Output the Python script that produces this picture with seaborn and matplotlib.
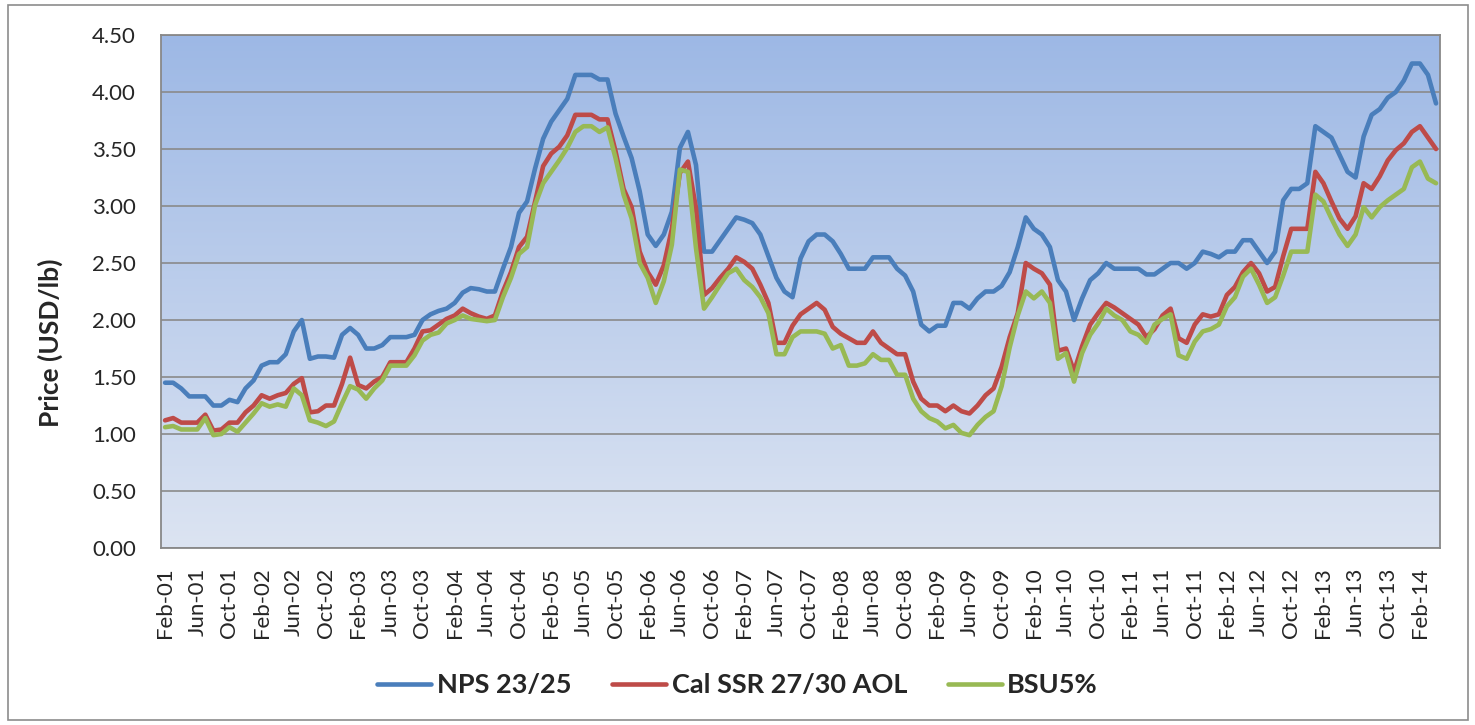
import numpy as np
import pandas as pd
import matplotlib
matplotlib.use('Agg')
import matplotlib.pyplot as plt
from matplotlib.patches import Rectangle
from matplotlib.colors import LinearSegmentedColormap
import seaborn as sns

# Monthly prices, Feb-01 .. Apr-14 (USD/lb)
nps = [1.45, 1.45, 1.40, 1.33, 1.33, 1.33, 1.25, 1.25, 1.30, 1.28,
       1.40, 1.47, 1.60, 1.63, 1.63, 1.70, 1.90, 2.00, 1.66, 1.68,
       1.68, 1.67, 1.87, 1.93, 1.87, 1.75, 1.75, 1.78, 1.85, 1.85,
       1.85, 1.87, 2.00, 2.05, 2.08, 2.10, 2.15, 2.24, 2.28, 2.27,
       2.25, 2.25, 2.45, 2.64, 2.94, 3.04, 3.33, 3.59, 3.74, 3.84,
       3.94, 4.15, 4.15, 4.15, 4.11, 4.11, 3.81, 3.61, 3.42, 3.13,
       2.75, 2.65, 2.75, 2.95, 3.51, 3.65, 3.36, 2.60, 2.60, 2.70,
       2.80, 2.90, 2.88, 2.85, 2.75, 2.56, 2.37, 2.25, 2.20, 2.54,
       2.69, 2.75, 2.75, 2.69, 2.58, 2.45, 2.45, 2.45, 2.55, 2.55,
       2.55, 2.45, 2.39, 2.25, 1.96, 1.90, 1.95, 1.95, 2.15, 2.15,
       2.10, 2.19, 2.25, 2.25, 2.30, 2.42, 2.64, 2.90, 2.80, 2.75,
       2.64, 2.35, 2.25, 2.00, 2.19, 2.35, 2.41, 2.50, 2.45, 2.45,
       2.45, 2.45, 2.40, 2.40, 2.45, 2.50, 2.50, 2.45, 2.50, 2.60,
       2.58, 2.55, 2.60, 2.60, 2.70, 2.70, 2.60, 2.50, 2.60, 3.05,
       3.15, 3.15, 3.20, 3.70, 3.65, 3.60, 3.45, 3.30, 3.25, 3.61,
       3.80, 3.85, 3.95, 4.00, 4.10, 4.25, 4.25, 4.15, 3.90]

cal_ssr = [1.12, 1.14, 1.10, 1.10, 1.10, 1.17, 1.03, 1.04, 1.10, 1.10,
           1.19, 1.25, 1.34, 1.31, 1.34, 1.36, 1.44, 1.49, 1.19, 1.20,
           1.25, 1.25, 1.44, 1.67, 1.43, 1.40, 1.46, 1.50, 1.63, 1.63,
           1.63, 1.75, 1.90, 1.91, 1.96, 2.01, 2.04, 2.10, 2.06, 2.03,
           2.01, 2.04, 2.25, 2.42, 2.64, 2.73, 3.04, 3.35, 3.46, 3.52,
           3.62, 3.80, 3.80, 3.80, 3.76, 3.76, 3.48, 3.15, 2.99, 2.60,
           2.42, 2.31, 2.48, 2.80, 3.29, 3.39, 2.98, 2.22, 2.28, 2.37,
           2.45, 2.55, 2.51, 2.45, 2.31, 2.15, 1.80, 1.80, 1.95, 2.05,
           2.10, 2.15, 2.09, 1.94, 1.88, 1.84, 1.80, 1.80, 1.90, 1.80,
           1.75, 1.70, 1.70, 1.46, 1.31, 1.25, 1.25, 1.20, 1.25, 1.20,
           1.18, 1.25, 1.34, 1.40, 1.59, 1.85, 2.06, 2.50, 2.45, 2.41,
           2.31, 1.73, 1.75, 1.55, 1.77, 1.96, 2.06, 2.15, 2.11, 2.06,
           2.01, 1.96, 1.85, 1.92, 2.04, 2.10, 1.84, 1.80, 1.96, 2.05,
           2.03, 2.05, 2.22, 2.29, 2.42, 2.50, 2.41, 2.25, 2.29, 2.56,
           2.80, 2.80, 2.80, 3.30, 3.20, 3.04, 2.89, 2.80, 2.91, 3.20,
           3.15, 3.26, 3.40, 3.49, 3.55, 3.65, 3.70, 3.60, 3.50]

bsu = [1.06, 1.07, 1.04, 1.04, 1.04, 1.14, 0.99, 1.00, 1.06, 1.02,
       1.10, 1.18, 1.27, 1.24, 1.26, 1.24, 1.40, 1.34, 1.12, 1.10,
       1.07, 1.11, 1.27, 1.42, 1.39, 1.31, 1.40, 1.47, 1.60, 1.60,
       1.60, 1.69, 1.82, 1.87, 1.89, 1.97, 2.00, 2.04, 2.01, 2.00,
       1.99, 2.00, 2.20, 2.37, 2.58, 2.64, 3.01, 3.20, 3.30, 3.40,
       3.51, 3.65, 3.70, 3.70, 3.65, 3.69, 3.42, 3.10, 2.89, 2.50,
       2.37, 2.15, 2.34, 2.66, 3.32, 3.30, 2.63, 2.10, 2.20, 2.31,
       2.41, 2.45, 2.35, 2.29, 2.20, 2.06, 1.70, 1.70, 1.85, 1.90,
       1.90, 1.90, 1.88, 1.75, 1.78, 1.60, 1.60, 1.62, 1.70, 1.65,
       1.65, 1.52, 1.52, 1.31, 1.20, 1.14, 1.11, 1.05, 1.08, 1.01,
       0.99, 1.08, 1.15, 1.20, 1.42, 1.76, 2.04, 2.25, 2.19, 2.25,
       2.15, 1.66, 1.71, 1.46, 1.71, 1.87, 1.97, 2.10, 2.04, 2.00,
       1.90, 1.87, 1.80, 1.96, 2.01, 2.05, 1.69, 1.66, 1.81, 1.90,
       1.92, 1.96, 2.12, 2.20, 2.38, 2.45, 2.31, 2.15, 2.20, 2.39,
       2.60, 2.60, 2.60, 3.10, 3.04, 2.89, 2.75, 2.65, 2.75, 2.99,
       2.90, 2.99, 3.05, 3.10, 3.15, 3.34, 3.39, 3.24, 3.20]

series_names = ['NPS 23/25', 'Cal SSR 27/30 AOL', 'BSU5%']
colors = ['#4A7EBB', '#BE4B48', '#98B954']
months = pd.date_range('2001-02-01', periods=len(nps), freq='MS').strftime('%b-%y').tolist()
y_ticks = [0.0, 0.5, 1.0, 1.5, 2.0, 2.5, 3.0, 3.5, 4.0, 4.5]

# long form for seaborn
idx = np.arange(len(nps))
df = pd.concat([
    pd.DataFrame({'idx': idx, 'price': vals, 'series': name})
    for name, vals in zip(series_names, [nps, cal_ssr, bsu])
])

sns.set_style('white')
plt.rcParams['font.family'] = ['Lato', 'DejaVu Sans']

fig = plt.figure(figsize=(14.75, 7.25), dpi=100)
ax = fig.add_axes([0.1092, 0.2441, 0.8671, 0.7076])

# gradient fill of the plot area
grad = np.linspace(0, 1, 256).reshape(-1, 1)
cmap = LinearSegmentedColormap.from_list('bg', ['#DCE4F2', '#9DB8E5'])
ax.imshow(grad, cmap=cmap, aspect='auto', origin='lower',
          extent=[0, 1, 0, 1], transform=ax.transAxes, zorder=0)

sns.lineplot(data=df, x='idx', y='price', hue='series', palette=colors,
             hue_order=series_names, sort=False, linewidth=3.3, ax=ax,
             legend=False, zorder=3)
for ln in ax.lines:
    ln.set_solid_joinstyle('round')
    ln.set_solid_capstyle('round')

ax.set_xlim(-0.5, len(nps) - 0.5)
ax.set_ylim(0, 4.5)
ax.set_yticks(y_ticks)
ax.set_yticklabels([f'{t:.2f}' for t in y_ticks])
ax.set_xticks(idx[::4])
ax.set_xticklabels(months[::4], rotation=90)
ax.tick_params(axis='y', length=0, pad=18, labelsize=16)
ax.tick_params(axis='x', length=0, pad=14, labelsize=16)

ax.grid(axis='y', color='#8A8A8A', linewidth=1.2, zorder=1)
ax.grid(axis='x', visible=False)
ax.set_axisbelow(True)
for sp in ax.spines.values():
    sp.set_color('#888888')
    sp.set_linewidth(1.3)

ax.set_xlabel('')
ax.set_ylabel('Price (USD/lb)', fontsize=19, fontweight='bold')
ax.yaxis.set_label_coords(-0.077, 0.40)

handles = [plt.Line2D([], [], color=c, linewidth=3.3, solid_capstyle='round')
           for c in colors]
fig.legend(handles, series_names, loc='center', bbox_to_anchor=(0.5, 0.055),
           ncol=3, frameon=False, handlelength=2.0, handletextpad=0.2,
           columnspacing=1.5, prop={'size': 19.5, 'weight': 'bold'})

# outer chart border
fig.patches.append(Rectangle((0.0054, 0.007), 0.9898, 0.986, transform=fig.transFigure,
                             fill=False, edgecolor='#8C8C8C', linewidth=1.2))

fig.savefig('out.png', dpi=100)
